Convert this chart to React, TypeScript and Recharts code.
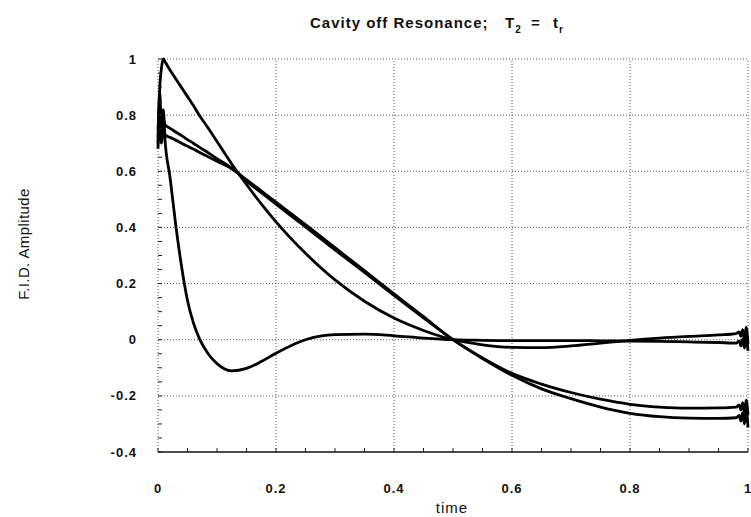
import React from 'react';
import { LineChart, Line, XAxis, YAxis, ReferenceLine } from 'recharts';

// sample times shared by the four traces
const time = [
  0, 0.003, 0.006, 0.009, 0.012,
  0.02, 0.03, 0.04, 0.05, 0.06, 0.07,
  0.085, 0.1, 0.125, 0.15, 0.175, 0.2,
  0.25, 0.3, 0.35, 0.4, 0.45, 0.5,
  0.55, 0.6, 0.65, 0.7, 0.75, 0.8,
  0.85, 0.9, 0.95, 0.98,
  0.985, 0.988, 0.991, 0.994, 0.997, 1.0,
];

const traceA = [
  0.72, 0.9, 0.97, 1.0, 0.99,
  0.962, 0.93, 0.898, 0.866, 0.834, 0.8,
  0.754, 0.706, 0.626, 0.553, 0.484, 0.42,
  0.308, 0.213, 0.137, 0.077, 0.033, 0.0,
  -0.018, -0.027, -0.028, -0.022, -0.012, -0.002,
  0.006, 0.012, 0.017, 0.022,
  0.028, 0.012, 0.036, 0.002, 0.045, -0.015,
];

const traceB = [
  0.75, 0.82, 0.72, 0.785, 0.765,
  0.754, 0.74, 0.727, 0.713, 0.7, 0.686,
  0.666, 0.645, 0.611, 0.565, 0.524, 0.483,
  0.402, 0.32, 0.24, 0.158, 0.078, 0.0,
  -0.065, -0.12, -0.158, -0.188, -0.212, -0.23,
  -0.24, -0.244, -0.243, -0.24,
  -0.232, -0.25, -0.224, -0.258, -0.215, -0.268,
];

const traceC = [
  0.7, 0.77, 0.7, 0.745, 0.73,
  0.721, 0.711, 0.7, 0.689, 0.679, 0.668,
  0.652, 0.636, 0.609, 0.57, 0.53, 0.49,
  0.41, 0.328, 0.246, 0.163, 0.082, 0.0,
  -0.067, -0.127, -0.175, -0.21, -0.24, -0.262,
  -0.274, -0.279, -0.28, -0.278,
  -0.27, -0.29, -0.26, -0.3, -0.252, -0.312,
];

const traceD = [
  0.68, 0.88, 0.74, 0.82, 0.71,
  0.585, 0.41, 0.26, 0.14, 0.06, 0.005,
  -0.05, -0.085, -0.111, -0.102, -0.078, -0.048,
  0.0, 0.018, 0.02, 0.014, 0.006, 0.0,
  -0.002, -0.003, -0.003, -0.003, -0.004, -0.005,
  -0.006, -0.008, -0.01, -0.012,
  -0.004, -0.022, 0.002, -0.03, 0.012, -0.04,
];

const majorX = [0, 0.2, 0.4, 0.6, 0.8, 1];
const majorY = [-0.2, 0, 0.2, 0.4, 0.6, 0.8, 1];
const minorX = [
  0, 0.05, 0.1, 0.15, 0.2, 0.25, 0.3, 0.35, 0.4, 0.45, 0.5,
  0.55, 0.6, 0.65, 0.7, 0.75, 0.8, 0.85, 0.9, 0.95, 1,
];
const minorY = [
  -0.4, -0.35, -0.3, -0.25, -0.2, -0.15, -0.1, -0.05, 0, 0.05, 0.1, 0.15, 0.2,
  0.25, 0.3, 0.35, 0.4, 0.45, 0.5, 0.55, 0.6, 0.65, 0.7, 0.75, 0.8, 0.85, 0.9, 0.95, 1,
];

const data = time.map((t, i) => ({
  t,
  a: traceA[i],
  b: traceB[i],
  c: traceC[i],
  d: traceD[i],
}));

const FONT = '"Liberation Sans", Arial, Helvetica, sans-serif';
const X_GAP = 30;
const Y_GAP = 21;

const isMajor = (v: number) => Math.abs(v * 5 - Math.round(v * 5)) < 1e-6;
const fmt = (v: number) => String(Math.round(v * 10) / 10);

const XTick = (props: any) => {
  const { x, y, payload } = props;
  const axisY = y - X_GAP;
  const v = payload.value;
  return (
    <g>
      <line x1={x} x2={x} y1={axisY} y2={axisY - 4} stroke="#222" />
      {isMajor(v) && (
        <text x={x} y={axisY + 41} textAnchor="middle" fontFamily={FONT} fontSize={13}
          fontWeight="bold" letterSpacing={1} fill="#111">
          {fmt(v)}
        </text>
      )}
    </g>
  );
};

const YTick = (props: any) => {
  const { x, y, payload } = props;
  const axisX = x + Y_GAP;
  const v = payload.value;
  return (
    <g>
      <line x1={axisX} x2={axisX + 4} y1={y} y2={y} stroke="#222" />
      {isMajor(v) && (
        <text x={x} y={y} dy="0.35em" textAnchor="end" fontFamily={FONT} fontSize={13}
          fontWeight="bold" letterSpacing={1} fill="#111">
          {fmt(v)}
        </text>
      )}
    </g>
  );
};

const gridStyle = { stroke: '#555', strokeDasharray: '1 2', strokeWidth: 1 };

export default function App() {
  return (
    <div style={{ position: 'absolute', left: 0, top: 0, width: 751, height: 517, background: '#fff' }}>
      <LineChart width={751} height={517} data={data} margin={{ top: 59, right: 3, bottom: 35, left: 98 }}>
        <XAxis dataKey="t" type="number" domain={[0, 1]} ticks={minorX} interval={0}
          tickLine={false} tickSize={0} tickMargin={X_GAP} height={30}
          axisLine={{ stroke: '#111', strokeWidth: 1.5 }} tick={<XTick />} />
        <XAxis xAxisId="top" dataKey="t" type="number" orientation="top" domain={[0, 1]}
          ticks={minorX} interval={0} tick={false} tickSize={4} mirror height={0}
          axisLine={false} tickLine={{ stroke: '#333' }} />
        <YAxis type="number" domain={[-0.4, 1]} ticks={minorY} interval={0} width={60}
          tickLine={false} tickSize={0} tickMargin={Y_GAP} axisLine={false} tick={<YTick />} />
        <YAxis yAxisId="right" type="number" orientation="right" domain={[-0.4, 1]}
          ticks={minorY} interval={0} tick={false} tickSize={4} mirror width={0}
          axisLine={false} tickLine={{ stroke: '#333' }} />
        {majorX.map((v) => (
          <ReferenceLine key={'vx' + v} x={v} {...gridStyle} />
        ))}
        {majorY.map((v) => (
          <ReferenceLine key={'hy' + v} y={v} {...gridStyle} />
        ))}
        <Line dataKey="a" type="monotone" stroke="#000" strokeWidth={2.8} dot={false} isAnimationActive={false} />
        <Line dataKey="b" type="monotone" stroke="#000" strokeWidth={2.8} dot={false} isAnimationActive={false} />
        <Line dataKey="c" type="monotone" stroke="#000" strokeWidth={2.8} dot={false} isAnimationActive={false} />
        <Line dataKey="d" type="monotone" stroke="#000" strokeWidth={2.8} dot={false} isAnimationActive={false} />
      </LineChart>
      <svg width={751} height={517} style={{ position: 'absolute', left: 0, top: 0, pointerEvents: 'none' }}>
        <text y={28} fontFamily={FONT} fontSize={15} fontWeight="bold" fill="#111" letterSpacing={1}>
          <tspan x={310}>Cavity off Resonance;</tspan>
          <tspan x={505}>T</tspan>
          <tspan fontSize={10} dy={5}>2</tspan>
          <tspan x={531} dy={-5}>=</tspan>
          <tspan x={553}>t</tspan>
          <tspan fontSize={10} dy={5}>r</tspan>
        </text>
        <text transform="translate(28.5,244) rotate(-90)" textAnchor="middle" fontFamily={FONT}
          fontSize={15} fill="#111" letterSpacing={0.4}>
          F.I.D. Amplitude
        </text>
        <text x={452} y={513} textAnchor="middle" fontFamily={FONT} fontSize={15} fill="#111" letterSpacing={1}>
          time
        </text>
      </svg>
    </div>
  );
}
